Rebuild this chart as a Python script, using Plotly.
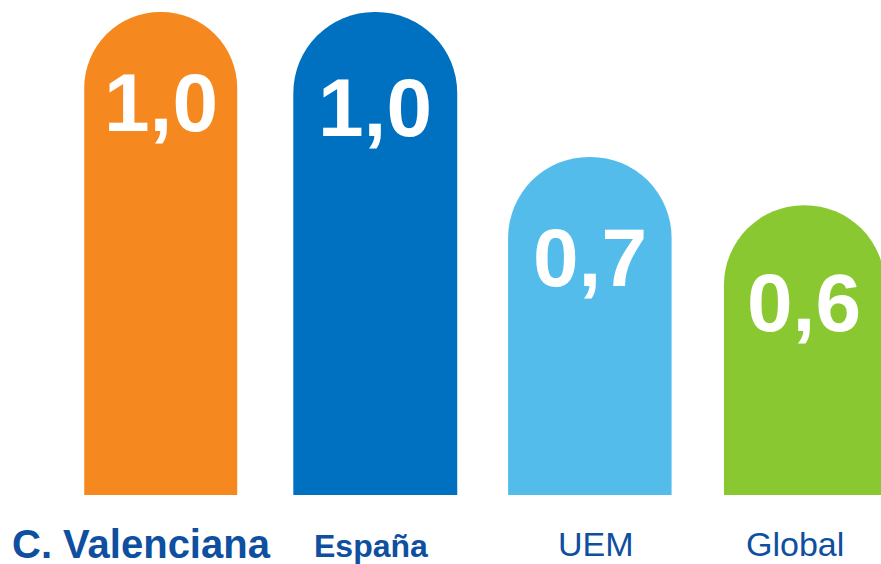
import plotly.graph_objects as go

# data
regions = ['C. Valenciana', 'España', 'UEM', 'Global']
values = [1.0, 1.0, 0.7, 0.6]
value_labels = ['1,0', '1,0', '0,7', '0,6']

colors = ['#F5891F', '#0070C0', '#53BCEB', '#8AC832']
widths = [0.713, 0.764, 0.762, 0.75]
value_yshift = [-91, -96, -101, -97]
label_sizes = [40, 32, 34, 34]
label_bold = [True, True, False, False]
label_xshift = [-19, -4, 6, -9]
label_yshift = [-25, -31, -28, -28]
label_color = '#0E4FA0'

fig = go.Figure()

fig.add_trace(go.Bar(
    x=regions,
    y=values,
    width=widths,
    marker=dict(color=colors, cornerradius='50%', line=dict(width=0)),
    hoverinfo='skip'
))

# value labels inside the rounded tops
for region, val, txt, dy in zip(regions, values, value_labels, value_yshift):
    fig.add_annotation(
        x=region, y=val, text=f'<b>{txt}</b>',
        showarrow=False, yanchor='middle', yshift=dy,
        font=dict(family='Liberation Sans, Arial', size=82, color='white')
    )

# category labels under the bars
for region, size, bold, dx, dy in zip(regions, label_sizes, label_bold,
                                      label_xshift, label_yshift):
    fig.add_annotation(
        x=region, y=0, yref='paper', xshift=dx,
        text=f'<b>{region}</b>' if bold else region,
        showarrow=False, yanchor='top', yshift=dy,
        font=dict(family='Liberation Sans, Arial', size=size, color=label_color)
    )

fig.update_layout(
    width=881,
    height=564,
    margin=dict(l=0, r=0, t=0, b=69),
    paper_bgcolor='white',
    plot_bgcolor='white',
    showlegend=False,
    xaxis=dict(range=[-0.749, 3.357], showticklabels=False, showgrid=False,
               zeroline=False, showline=False, ticks=''),
    yaxis=dict(range=[0, 1.0248], visible=False, showgrid=False, zeroline=False),
)

# the page body has a default 8px margin; drop it so the figure fills the window
fig.write_html("out.html", config={'displayModeBar': False},
               post_script="document.body.style.margin='0';")
